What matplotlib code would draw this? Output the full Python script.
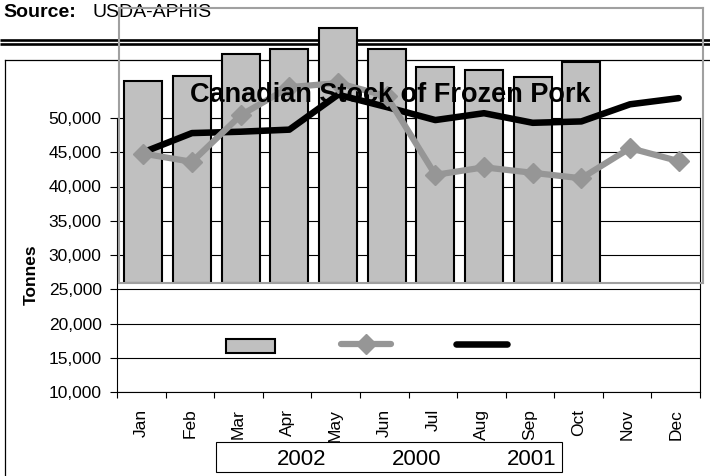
import matplotlib
matplotlib.use('Agg')
import matplotlib.pyplot as plt
from matplotlib.patches import Rectangle
from matplotlib.ticker import StrMethodFormatter

plt.rcParams['font.family'] = ['Liberation Sans', 'DejaVu Sans']

months = ['Jan', 'Feb', 'Mar', 'Apr', 'May', 'Jun', 'Jul', 'Aug', 'Sep', 'Oct', 'Nov', 'Dec']
# 2002 bars (only Jan-Oct), 2000 and 2001 lines, tonnes
stock_2002 = [55400, 56100, 59300, 60100, 63100, 60100, 57400, 57000, 56000, 58200]
stock_2000 = [44800, 43600, 50400, 54500, 55100, 53200, 41700, 42800, 42000, 41200, 45600, 43700]
stock_2001 = [45000, 47800, 48000, 48300, 53400, 51600, 49700, 50700, 49300, 49500, 52000, 52900]
legend_labels = ['2002', '2000', '2001']
yticks = [10000, 15000, 20000, 25000, 30000, 35000, 40000, 45000, 50000]

W, H = 710, 476
BAR_C = '#c0c0c0'
GRAY_C = '#969696'

def fx(x):
    return x / W

def fy(y):
    return 1 - y / H

fig = plt.figure(figsize=(W / 100, H / 100), dpi=100)

# background layer in pixel coords (frame lines, source)
bg = fig.add_axes([0, 0, 1, 1], zorder=0)
bg.set_xlim(0, W)
bg.set_ylim(H, 0)
bg.axis('off')
bg.plot([0, W], [39.7, 39.7], color='black', lw=1.9, solid_capstyle='butt')
bg.plot([0, W], [44.2, 44.2], color='black', lw=1.9, solid_capstyle='butt')
bg.plot([5, W], [59.5, 59.5], color='black', lw=0.9)
bg.plot([5, 5], [59.5, H], color='black', lw=0.9)
bg.text(3, 17, 'Source:', fontsize=14, fontweight='bold', va='baseline', ha='left')
bg.text(92, 17, 'USDA-APHIS', fontsize=14, va='baseline', ha='left')

# main axes
ax = fig.add_axes([fx(117), fy(392), fx(700 - 117), (392 - 118) / H], zorder=1)
ax.set_facecolor('none')
ax.set_xlim(-0.5, 11.5)
ax.set_ylim(yticks[0], yticks[-1])
ax.set_yticks(yticks)
ax.yaxis.set_major_formatter(StrMethodFormatter('{x:,.0f}'))
ax.grid(axis='y', color='black', lw=0.8)
ax.set_xticks([i - 0.5 for i in range(13)])
ax.set_xticklabels([])
ax.set_xticks(range(12), minor=True)
ax.set_xticklabels(months, minor=True, rotation=90, fontsize=12.5)
ax.tick_params(axis='x', which='major', length=4, width=0.8)
ax.tick_params(axis='x', which='minor', length=0, pad=12)
ax.tick_params(axis='y', length=5, width=0.8, pad=6, labelsize=12.5)
for s in ax.spines.values():
    s.set_linewidth(0.8)
bg.text(31, 275, 'Tonnes', fontsize=12.5, fontweight='bold', rotation=90, ha='center', va='center')

# overlapping chart box with the bars and lines
in_top, in_bot = 8, 283
per_px = (yticks[-1] - yticks[0]) / (392 - 118)
ax2 = fig.add_axes([fx(119), fy(in_bot), fx(703 - 119), (in_bot - in_top) / H], zorder=2)
ax2.set_facecolor('none')
ax2.set_xlim(-0.5, 11.5)
lo = yticks[0] + (392 - in_bot) * per_px
hi = yticks[0] + (392 - in_top) * per_px
ax2.set_ylim(lo, hi)
ax2.set_xticks([])
ax2.set_yticks([])
for s in ax2.spines.values():
    s.set_color('#a0a0a0')
    s.set_linewidth(1.5)

ax2.bar(range(len(stock_2002)), [v - lo for v in stock_2002], bottom=lo, width=0.78,
        color=BAR_C, edgecolor='black', linewidth=1.5)
ax2.plot(range(12), stock_2001, color='black', lw=4.7, solid_capstyle='round', zorder=3)
ax2.plot(range(12), stock_2000, color=GRAY_C, lw=4.5, marker='D', markersize=10,
         solid_capstyle='round', zorder=4)

# top layer: title and split legend
top = fig.add_axes([0, 0, 1, 1], zorder=3)
top.set_xlim(0, W)
top.set_ylim(H, 0)
top.axis('off')
top.text(390, 102, 'Canadian Stock of Frozen Pork', fontsize=19.5, fontweight='bold',
         ha='center', va='baseline')

top.add_patch(Rectangle((226, 339), 49, 14, facecolor=BAR_C, edgecolor='black', lw=1.5))
top.plot([341, 391], [344, 344], color=GRAY_C, lw=4.5, solid_capstyle='round')
top.plot([366], [344], color=GRAY_C, marker='D', markersize=10)
top.plot([456, 507], [344, 344], color='black', lw=4.7, solid_capstyle='round')

top.add_patch(Rectangle((216, 442), 346, 30, facecolor='white', edgecolor='black', lw=0.8))
for lab, xc in zip(legend_labels, [302, 417, 532]):
    top.text(xc, 465, lab, fontsize=16, ha='center', va='baseline')

fig.savefig('out.png', dpi=100)
